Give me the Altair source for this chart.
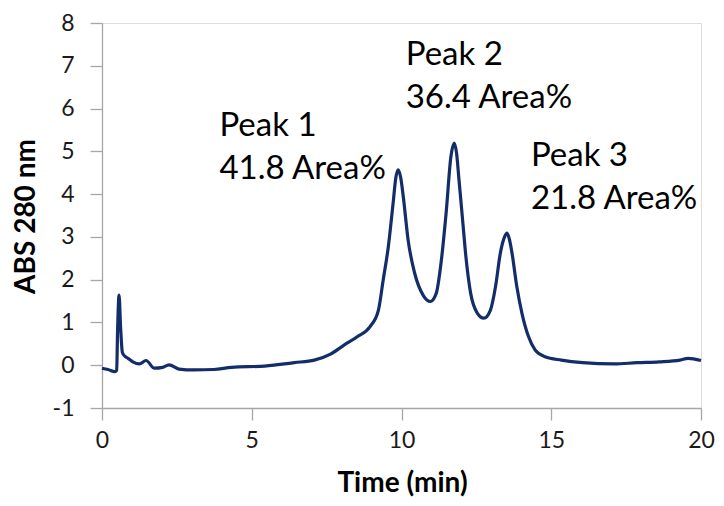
import altair as alt
import pandas as pd

# Chromatogram trace
time_min = [0.0, 0.2, 0.43, 0.49, 0.52, 0.57, 0.62, 0.68, 0.75, 0.87, 1.03, 1.25, 1.47,
            1.75, 2.02, 2.24, 2.57, 3.07, 3.73, 4.33, 5.43, 6.42, 7.09, 7.63, 8.08,
            8.51, 8.95, 9.23, 9.39, 9.56, 9.72, 9.81, 9.89, 9.97, 10.06, 10.22, 10.44,
            10.72, 10.96, 11.16, 11.32, 11.49, 11.65, 11.76, 11.84, 11.92, 12.04, 12.15,
            12.31, 12.53, 12.75, 12.97, 13.14, 13.30, 13.44, 13.52, 13.60, 13.69, 13.85,
            14.02, 14.24, 14.46, 14.79, 15.34, 16.05, 17.1, 17.87, 18.6, 19.3, 19.57, 20.0]
abs_280 = [-0.07, -0.10, -0.15, -0.12, 0.8, 1.64, 0.9, 0.30, 0.22, 0.16, 0.08, 0.03, 0.11,
           -0.07, -0.05, 0.01, -0.09, -0.11, -0.10, -0.05, -0.02, 0.06, 0.12, 0.26, 0.47,
           0.66, 0.90, 1.29, 2.0, 2.77, 3.79, 4.38, 4.57, 4.40, 3.94, 2.93, 2.15,
           1.64, 1.49, 1.68, 2.39, 3.56, 4.88, 5.19, 4.95, 4.33, 3.40, 2.54,
           1.68, 1.22, 1.10, 1.29, 1.84, 2.62, 3.0, 3.09, 2.95, 2.62, 1.84,
           1.22, 0.67, 0.36, 0.20, 0.12, 0.06, 0.03, 0.06, 0.08, 0.12, 0.16, 0.11]

# Peak annotations
peak_labels = ["Peak 1\n41.8 Area%", "Peak 2\n36.4 Area%", "Peak 3\n21.8 Area%"]
label_x = [3.92, 10.14, 14.32]
label_y = [5.35, 7.02, 4.65]

trace = pd.DataFrame({"t": time_min, "a": abs_280})
notes = pd.DataFrame({"label": peak_labels, "x": label_x, "y": label_y})

FONT = "Lato"
AXIS_GRAY = "#A6A6A6"

x_scale = alt.Scale(domain=[0, 20], nice=False, zero=False)
y_scale = alt.Scale(domain=[-1, 8], nice=False, zero=False)

line = alt.Chart(trace).mark_line(
    color="#132D6B", strokeWidth=3.2, interpolate="monotone", strokeJoin="round"
).encode(
    x=alt.X("t:Q", scale=x_scale, axis=alt.Axis(
        title="Time (min)", values=[0, 5, 10, 15, 20], grid=False,
        labelExpr="'' + datum.value",
        domainColor=AXIS_GRAY, tickColor=AXIS_GRAY, tickSize=12, domainWidth=1.3, tickWidth=1.3,
        labelFont=FONT, labelFontSize=23, labelColor="#1a1a1a", labelPadding=9,
        labelFlush=False,
        titleFont=FONT, titleFontSize=28, titleFontWeight="bold", titleColor="#000000",
        titleX=300, titleY=75, titleBaseline="middle", titleAnchor="middle", titleAlign="center")),
    y=alt.Y("a:Q", scale=y_scale, axis=alt.Axis(
        title="ABS 280 nm", values=list(range(-1, 9)), grid=False,
        labelExpr="'' + datum.value",
        domainColor=AXIS_GRAY, tickColor=AXIS_GRAY, tickSize=12, domainWidth=1.3, tickWidth=1.3,
        labelFont=FONT, labelFontSize=23, labelColor="#1a1a1a", labelPadding=16,
        labelFlush=False,
        titleFont=FONT, titleFontSize=28, titleFontWeight="bold", titleColor="#000000",
        titleAngle=270, titleX=-76, titleY=193, titleBaseline="middle", titleAlign="center")),
)

text = alt.Chart(notes).mark_text(
    align="left", baseline="alphabetic", font=FONT, fontSize=33, lineBreak="\n",
    lineHeight=43, color="#000000"
).encode(
    x=alt.X("x:Q", scale=x_scale),
    y=alt.Y("y:Q", scale=y_scale),
    text="label:N",
)

chart = (line + text).properties(
    width=599, height=385,
    padding={"left": 94, "top": 15, "right": 15, "bottom": 90},
    autosize="none",
).configure_view(stroke=AXIS_GRAY, strokeWidth=1.3).configure(background="white")

chart.save("out.html", embed_options={"renderer": "svg", "actions": False})
